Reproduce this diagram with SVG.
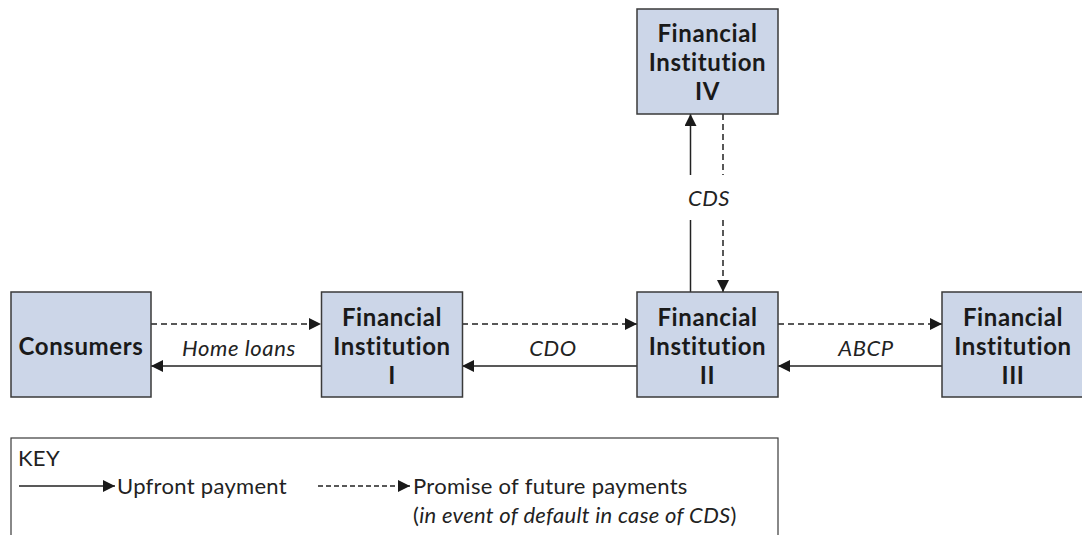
<svg xmlns="http://www.w3.org/2000/svg" width="1082" height="535" viewBox="0 0 1082 535">
<style>
.box{fill:#ccd6e8;stroke:#3a3a3a;stroke-width:1.5}
.nt{font-family:Lato,"Open Sans",sans-serif;font-weight:bold;font-size:24px;letter-spacing:0.6px;fill:#1a1a1a;text-anchor:middle}
.lb{font-family:Lato,"Open Sans",sans-serif;font-style:italic;font-size:22px;letter-spacing:0.6px;fill:#222;text-anchor:middle}
.kt{font-family:Lato,"Open Sans",sans-serif;font-size:22px;letter-spacing:0.3px;fill:#222}
.ln{stroke:#222;stroke-width:1.5;fill:none}
.dash{stroke-dasharray:6,4}
</style>
<defs>
<marker id="ah" viewBox="0 0 12 12" refX="12" refY="6" markerWidth="12" markerHeight="12" markerUnits="userSpaceOnUse" orient="auto">
<path d="M0,0 L12,6 L0,12 z" fill="#1a1a1a"/>
</marker>
</defs>
<g id="connectors">
<line class="ln dash" x1="151" y1="324" x2="321" y2="324" marker-end="url(#ah)"/>
<line class="ln" x1="321" y1="366" x2="151" y2="366" marker-end="url(#ah)"/>
<text class="lb" x="239" y="356">Home loans</text>
<line class="ln dash" x1="462" y1="324" x2="637" y2="324" marker-end="url(#ah)"/>
<line class="ln" x1="637" y1="366" x2="462" y2="366" marker-end="url(#ah)"/>
<text class="lb" x="553" y="356">CDO</text>
<line class="ln dash" x1="778" y1="324" x2="942" y2="324" marker-end="url(#ah)"/>
<line class="ln" x1="942" y1="366" x2="778" y2="366" marker-end="url(#ah)"/>
<text class="lb" x="866" y="356">ABCP</text>
<line class="ln" x1="690.5" y1="175" x2="690.5" y2="114" marker-end="url(#ah)"/>
<line class="ln" x1="690.5" y1="292" x2="690.5" y2="220"/>
<line class="ln dash" x1="723" y1="114" x2="723" y2="175"/>
<line class="ln dash" x1="723" y1="220" x2="723" y2="292" marker-end="url(#ah)"/>
<text class="lb" x="709" y="206">CDS</text>
</g>
<g id="consumers">
<rect class="box" x="11" y="292" width="140" height="105"/>
<text class="nt" x="81" y="355">Consumers</text>
</g>
<g id="fi1">
<rect class="box" x="321.5" y="292" width="141" height="105"/>
<text class="nt" x="392" y="326">Financial</text>
<text class="nt" x="392" y="355">Institution</text>
<text class="nt" x="392" y="384">I</text>
</g>
<g id="fi2">
<rect class="box" x="637" y="292" width="141" height="105"/>
<text class="nt" x="707.5" y="326">Financial</text>
<text class="nt" x="707.5" y="355">Institution</text>
<text class="nt" x="707.5" y="384">II</text>
</g>
<g id="fi3">
<rect class="box" x="942" y="292" width="145" height="105"/>
<text class="nt" x="1013" y="326">Financial</text>
<text class="nt" x="1013" y="355">Institution</text>
<text class="nt" x="1013" y="384">III</text>
</g>
<g id="fi4">
<rect class="box" x="637" y="9" width="141" height="105"/>
<text class="nt" x="707.5" y="42">Financial</text>
<text class="nt" x="707.5" y="71">Institution</text>
<text class="nt" x="707.5" y="100">IV</text>
</g>
<g id="key">
<rect x="11" y="438" width="767" height="110" fill="#fff" stroke="#3a3a3a" stroke-width="1.2"/>
<text class="kt" x="18" y="466">KEY</text>
<line class="ln" x1="19" y1="486" x2="115" y2="486" marker-end="url(#ah)"/>
<text class="kt" x="117" y="494">Upfront payment</text>
<line class="ln" x1="318" y1="486" x2="410" y2="486" stroke-dasharray="5,3" marker-end="url(#ah)"/>
<text class="kt" x="413" y="494">Promise of future payments</text>
<text class="kt" x="413" y="523">(<tspan font-style="italic">in event of default in case of CDS</tspan>)</text>
</g>
</svg>
